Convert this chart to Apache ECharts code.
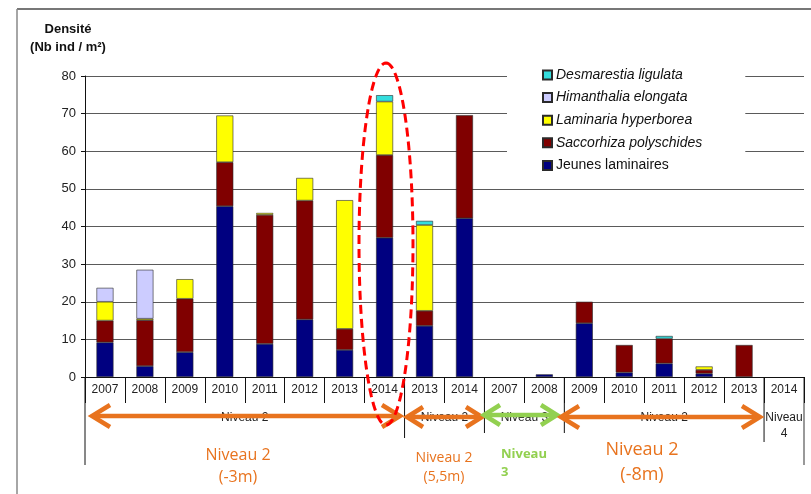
<!DOCTYPE html>
<html>
<head>
<meta charset="utf-8">
<script src="https://cdn.jsdelivr.net/npm/echarts@6/dist/echarts.min.js"></script>
<style>html,body{margin:0;padding:0;background:#fff}#c{width:811px;height:494px}</style>
</head>
<body>
<div id="c"></div>
<script>
// ---- data ----
const categories = ['2007','2008','2009','2010','2011','2012','2013','2014','2013','2014','2007','2008','2009','2010','2011','2012','2013','2014'];
const jeunes      = [9.2, 2.9, 6.6, 45.4, 8.8, 15.3, 7.2, 37.0, 13.6, 42.2, 0, 0.7, 14.3, 1.2, 3.6, 0.9, 0, 0];
const saccorhiza  = [5.8, 12.2, 14.2, 11.7, 34.3, 31.6, 5.6, 22.0, 4.0, 27.4, 0, 0, 5.7, 7.3, 6.6, 1.0, 8.5, 0];
const laminaria   = [5.0, 0.4, 5.2, 12.4, 0.5, 6.0, 34.2, 14.2, 22.8, 0, 0, 0, 0, 0, 0, 0.9, 0, 0];
const himanthalia = [3.7, 13.0, 0, 0, 0, 0, 0, 0, 0, 0, 0, 0, 0, 0, 0, 0, 0, 0];
const desmarestia = [0, 0, 0, 0, 0, 0, 0, 1.7, 1.1, 0, 0, 0, 0, 0, 0.7, 0, 0, 0];
const yTicks = [0, 10, 20, 30, 40, 50, 60, 70, 80];
const groupLabels = [
  {text: 'Niveau 2', from: 0, to: 8},
  {text: 'Niveau 2', from: 8, to: 10},
  {text: 'Niveau 3', from: 10, to: 12},
  {text: 'Niveau 2', from: 12, to: 17},
  {text: 'Niveau\n4', from: 17, to: 18}
];

// ---- layout ----
const G = {left: 85, right: 7, top: 76, bottom: 117};
const W = 811, H = 494;
const gx0 = G.left, gx1 = W - G.right, gy1 = H - G.bottom;
const bw = (gx1 - gx0) / categories.length;
const bx = k => gx0 + k * bw;

const chart = echarts.init(document.getElementById('c'), null, {renderer: 'canvas'});
const FONT = 'Liberation Sans, Arial, sans-serif';
const border = {borderColor: '#2a2a2a', borderWidth: 0.6};

function mk(name, data, color) {
  return {name, type: 'bar', stack: 's', data: data.map(v => v === 0 ? null : v), barWidth: 17,
    itemStyle: Object.assign({color}, border), emphasis: {disabled: true}};
}

const graphics = [];
// frame
graphics.push({type: 'line', shape: {x1: 17, y1: 9, x2: 811, y2: 9}, style: {stroke: '#777', lineWidth: 2}});
graphics.push({type: 'line', shape: {x1: 17, y1: 9, x2: 17, y2: 494}, style: {stroke: '#888', lineWidth: 1.5}});
// y title
graphics.push({type: 'text', x: 68, y: 29, style: {text: 'Densité', font: 'bold 13px ' + FONT, fill: '#111', align: 'center', verticalAlign: 'middle'}});
graphics.push({type: 'text', x: 68, y: 47, style: {text: '(Nb ind / m²)', font: 'bold 13px ' + FONT, fill: '#111', align: 'center', verticalAlign: 'middle'}});
// axis extension lines
graphics.push({type: 'line', shape: {x1: gx0, y1: gy1, x2: gx0, y2: 465}, style: {stroke: '#111', lineWidth: 1}});
graphics.push({type: 'line', shape: {x1: gx1, y1: gy1, x2: gx1, y2: 465}, style: {stroke: '#777', lineWidth: 1.5}});
[[8, 438], [10, 433], [12, 433], [17, 442]].forEach(([k, y2]) => {
  graphics.push({type: 'line', shape: {x1: bx(k), y1: gy1, x2: bx(k), y2}, style: {stroke: '#111', lineWidth: 1}});
});
// group labels
groupLabels.forEach(g => {
  graphics.push({type: 'text', x: (bx(g.from) + bx(g.to)) / 2, y: 410, z: 5,
    style: {text: g.text, font: '12px ' + FONT, fill: '#222', align: 'center', verticalAlign: 'top', lineHeight: 16}});
});
// arrows
function arrow(xa, xb, y, color, head, hh) {
  const lw = 4.5;
  graphics.push({type: 'line', z: 20, shape: {x1: xa + 2, y1: y, x2: xb - 2, y2: y}, style: {stroke: color, lineWidth: lw}});
  graphics.push({type: 'polyline', z: 20, shape: {points: [[xa + head, y - hh], [xa, y], [xa + head, y + hh]]}, style: {stroke: color, lineWidth: lw, fill: null, lineJoin: 'miter'}});
  graphics.push({type: 'polyline', z: 20, shape: {points: [[xb - head, y - hh], [xb, y], [xb - head, y + hh]]}, style: {stroke: color, lineWidth: lw, fill: null, lineJoin: 'miter'}});
}
const OR = '#E8731E', GR = '#92D050';
arrow(92, 400, 416, OR, 18, 11);
arrow(407, 482, 417, OR, 16, 10);
arrow(484, 557, 415, GR, 16, 10);
arrow(561, 760, 417, OR, 18, 11);
// annotation texts
const TF = '"Open Sans", "Noto Sans", sans-serif';
graphics.push({type: 'text', x: 238, y: 466, z: 20, style: {text: 'Niveau 2\n(-3m)', font: '16px ' + TF, fill: OR, align: 'center', verticalAlign: 'middle', lineHeight: 22}});
graphics.push({type: 'text', x: 444, y: 468, z: 20, style: {text: 'Niveau 2\n(5,5m)', font: '14px ' + TF, fill: OR, align: 'center', verticalAlign: 'middle', lineHeight: 19}});
graphics.push({type: 'text', x: 501, y: 463, z: 20, style: {text: 'Niveau\n3', font: 'bold 13px ' + TF, fill: GR, align: 'left', verticalAlign: 'middle', lineHeight: 18}});
graphics.push({type: 'text', x: 642, y: 462, z: 20, style: {text: 'Niveau 2\n(-8m)', font: '18px ' + TF, fill: OR, align: 'center', verticalAlign: 'middle', lineHeight: 25}});
// red dashed ellipse
const ell = [];
for (let i = 0; i < 120; i++) {
  const t = i / 120 * Math.PI * 2;
  ell.push([386 + 27 * Math.sin(t), 244 - 181 * Math.cos(t)]);
}
graphics.push({type: 'polygon', z: 30, shape: {points: ell}, style: {fill: null, stroke: '#FF0000', lineWidth: 3, lineDash: [9, 5]}});

chart.setOption({
  animation: false,
  backgroundColor: '#fff',
  grid: {left: G.left, right: G.right, top: G.top, bottom: G.bottom, containLabel: false},
  legend: {
    orient: 'vertical', left: 507, top: 62,
    padding: [6, 43, 10, 35],
    backgroundColor: '#fff',
    icon: 'rect',
    itemWidth: 9, itemHeight: 9, itemGap: 8.6,
    selectedMode: false,
    data: ['Desmarestia ligulata', 'Himanthalia elongata', 'Laminaria hyperborea', 'Saccorhiza polyschides', 'Jeunes laminaires'],
    formatter: n => n === 'Jeunes laminaires' ? '{n|' + n + '}' : '{i|' + n + '}',
    textStyle: {
      color: '#111', fontSize: 14, fontFamily: FONT, padding: [0, 0, 0, -1],
      rich: {
        i: {fontStyle: 'italic', fontSize: 14, fontFamily: FONT, color: '#111', lineHeight: 15},
        n: {fontSize: 14, fontFamily: FONT, color: '#111', lineHeight: 15}
      }
    }
  },
  xAxis: {
    type: 'category', data: categories,
    axisLine: {lineStyle: {color: '#111', width: 1}},
    axisTick: {show: true, interval: 0, length: 26, lineStyle: {color: '#111'}},
    axisLabel: {interval: 0, fontSize: 12, fontFamily: FONT, color: '#222', margin: 7}
  },
  yAxis: {
    type: 'value', min: yTicks[0], max: yTicks[yTicks.length - 1], interval: 10,
    axisLine: {show: true, lineStyle: {color: '#111', width: 1}},
    axisTick: {show: true, length: 4, lineStyle: {color: '#111'}},
    axisLabel: {fontSize: 13, fontFamily: FONT, color: '#222', margin: 9},
    splitLine: {lineStyle: {color: '#5a5a5a', width: 1.2}}
  },
  series: [
    mk('Jeunes laminaires', jeunes, '#000080'),
    mk('Saccorhiza polyschides', saccorhiza, '#800000'),
    mk('Laminaria hyperborea', laminaria, '#FFFF00'),
    mk('Himanthalia elongata', himanthalia, '#CCCCFF'),
    mk('Desmarestia ligulata', desmarestia, '#33DDDD')
  ],
  graphic: {elements: graphics}
});
</script>
</body>
</html>
